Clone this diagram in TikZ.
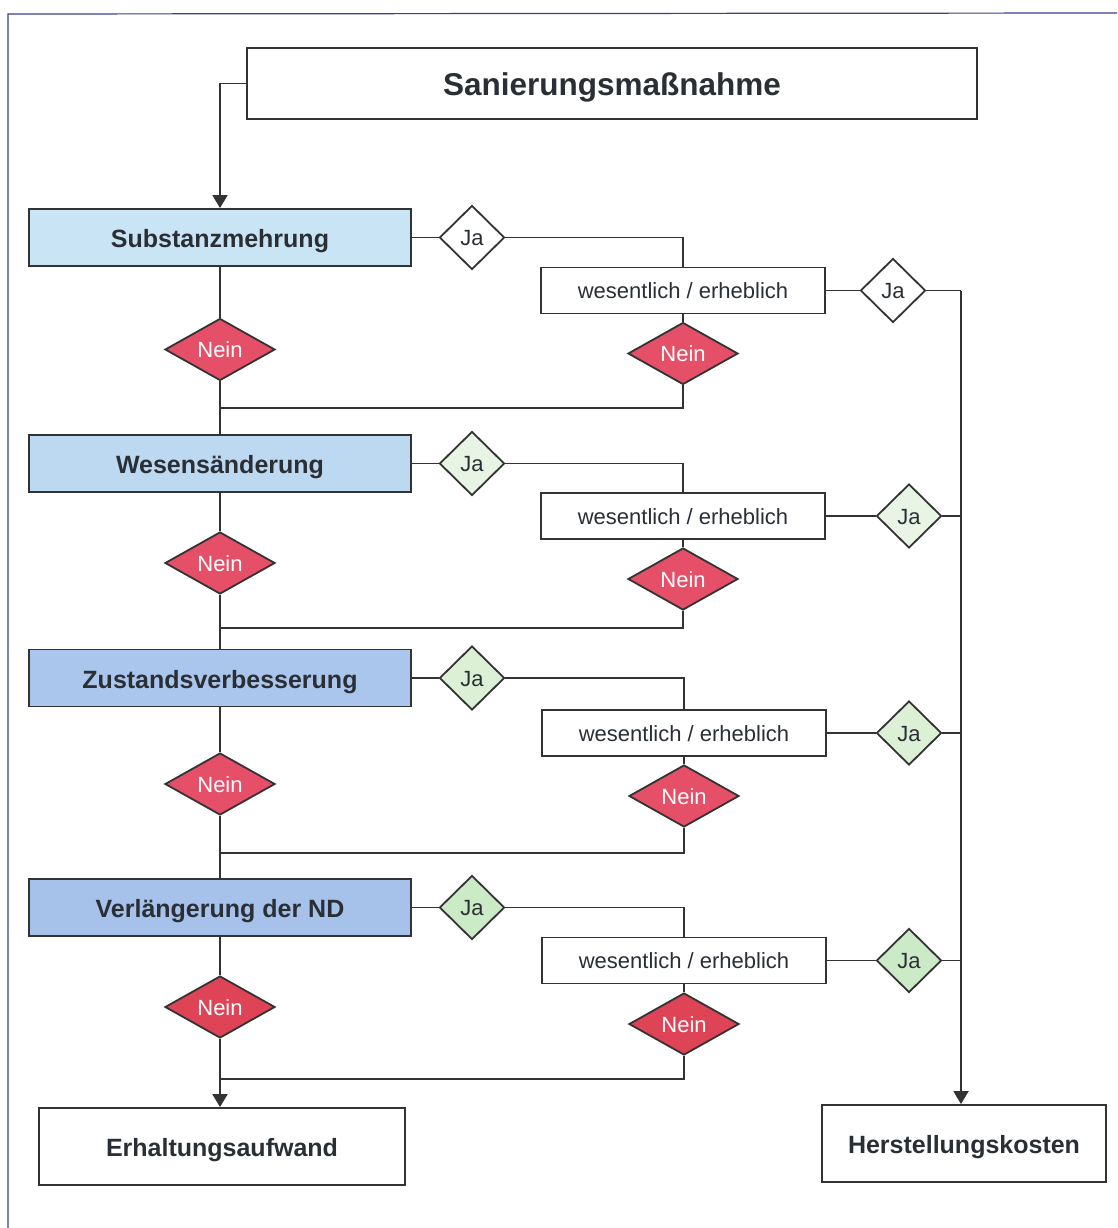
\documentclass[tikz,border=0pt]{standalone}
\usepackage{fontspec}
\setmainfont{Liberation Sans}
\usetikzlibrary{shapes.geometric,arrows.meta}
\definecolor{linec}{HTML}{333333}
\definecolor{txt}{HTML}{2A2F36}
\definecolor{framec}{HTML}{3C3F8F}
\definecolor{bA}{HTML}{C9E5F5}
\definecolor{bB}{HTML}{BDD8F1}
\definecolor{bC}{HTML}{ABC6EC}
\definecolor{bD}{HTML}{A6C1EA}
\definecolor{gB}{HTML}{E8F5E5}
\definecolor{gC}{HTML}{DCF0D6}
\definecolor{gD}{HTML}{CBEAC6}
\definecolor{rA}{HTML}{E55068}
\definecolor{rD}{HTML}{DE4455}
\begin{document}
\begin{tikzpicture}[x=1pt,y=-1pt,
  conn/.style={draw=linec, line width=1.8pt},
  arr/.style={conn, -{Triangle[width=15pt,length=13pt]}},
  mainbox/.style={draw=linec, line width=1.8pt, inner sep=0pt, minimum width=382pt, minimum height=57pt, text height=20pt, text depth=0pt, text=txt, font=\bfseries\fontsize{25}{30}\selectfont},
  endbox/.style={draw=linec, line width=1.8pt, inner sep=0pt, minimum height=77pt, text height=20pt, text depth=0pt, fill=white, text=txt, font=\bfseries\fontsize{25}{30}\selectfont},
  wbox/.style={draw=linec, line width=1.8pt, inner sep=0pt, minimum width=284pt, minimum height=46pt, text height=16pt, text depth=0pt, fill=white, text=txt, font=\fontsize{22}{26}\selectfont},
  jadia/.style={diamond, aspect=1, draw=linec, line width=1.8pt, inner sep=0pt, minimum width=65pt, minimum height=64pt, text height=16pt, text depth=0pt, text=txt, font=\fontsize{22}{26}\selectfont},
  neindia/.style={diamond, aspect=1.75, draw=linec, line width=1.8pt, inner sep=0pt, minimum width=110pt, minimum height=62pt, text height=16pt, text depth=0pt, text=white, font=\fontsize{22}{26}\selectfont},
]
\useasboundingbox (0,0) rectangle (1117,1228);
\fill[white] (0,0) rectangle (1117,1228);
\draw[framec, line width=1.2pt] (8,1228) -- (8,14) -- (1117,13);

% top
\node[draw=linec, line width=1.8pt, inner sep=0pt, minimum width=730pt, minimum height=71pt, text height=24pt, text depth=0pt, text=txt, font=\bfseries\fontsize{31.5}{36}\selectfont] (top) at (612,83.5) {Sanierungsmaßnahme};

% row 1
\node[mainbox, fill=bA] (s1) at (220,237.5) {Substanzmehrung};
\node[jadia, fill=white] (ja1) at (472,237.5) {Ja};
\node[wbox] (w1) at (683,290.5) {wesentlich / erheblich};
\node[jadia, fill=white] (jr1) at (893,290.5) {Ja};
\node[neindia, fill=rA] (nr1) at (683,353.5) {Nein};
\node[neindia, fill=rA] (nl1) at (220,349.5) {Nein};
\coordinate (j1) at (220,408);

% row 2
\node[mainbox, fill=bB] (s2) at (220,463.5) {Wesensänderung};
\node[jadia, fill=gB] (ja2) at (472,463.5) {Ja};
\node[wbox] (w2) at (683,516) {wesentlich / erheblich};
\node[jadia, fill=gB] (jr2) at (909,516) {Ja};
\node[neindia, fill=rA] (nr2) at (683,579) {Nein};
\node[neindia, fill=rA] (nl2) at (220,563) {Nein};
\coordinate (j2) at (220,628);

% row 3
\node[mainbox, fill=bC] (s3) at (220,678) {Zustandsverbesserung};
\node[jadia, fill=gC] (ja3) at (472,678) {Ja};
\node[wbox] (w3) at (684,733) {wesentlich / erheblich};
\node[jadia, fill=gC] (jr3) at (909,733) {Ja};
\node[neindia, fill=rA] (nr3) at (684,796) {Nein};
\node[neindia, fill=rA] (nl3) at (220,784) {Nein};
\coordinate (j3) at (220,853);

% row 4
\node[mainbox, fill=bD] (s4) at (220,907.5) {Verlängerung der ND};
\node[jadia, fill=gD] (ja4) at (472,907.5) {Ja};
\node[wbox] (w4) at (684,960.5) {wesentlich / erheblich};
\node[jadia, fill=gD] (jr4) at (909,960.5) {Ja};
\node[neindia, fill=rD] (nr4) at (684,1024) {Nein};
\node[neindia, fill=rD] (nl4) at (220,1007) {Nein};
\coordinate (j4) at (220,1079);

% end boxes
\node[endbox, minimum width=366pt] (ea) at (222,1146.5) {Erhaltungsaufwand};
\node[endbox, minimum width=284pt] (hk) at (964,1143.5) {Herstellungskosten};
\coordinate (v1) at (961,290.5);

% connectors
\draw[arr] (top.west) -| (s1.north);
\foreach \i/\n in {1/2,2/3,3/4}{
  \draw[conn] (s\i.south) -- (nl\i.north);
  \draw[conn] (nl\i.south) -- (s\n.north);
}
\foreach \i in {1,2,3,4}{
  \draw[conn] (s\i.east) -- (ja\i.west);
  \draw[conn] (ja\i.east) -| (w\i.north);
  \draw[conn] (w\i.east) -- (jr\i.west);
  \draw[conn] (w\i.south) -- (nr\i.north);
  \draw[conn] (nr\i.south) |- (j\i);
}
\foreach \i in {2,3,4}{
  \draw[conn] (jr\i.east) -- (jr\i.east -| v1);
}
\draw[conn] (jr1.east) -- (v1);
\draw[arr] (v1) -- (v1 |- hk.north);
\draw[conn] (s4.south) -- (nl4.north);
\draw[arr] (nl4.south) -- (nl4.south |- ea.north);
\end{tikzpicture}
\end{document}
